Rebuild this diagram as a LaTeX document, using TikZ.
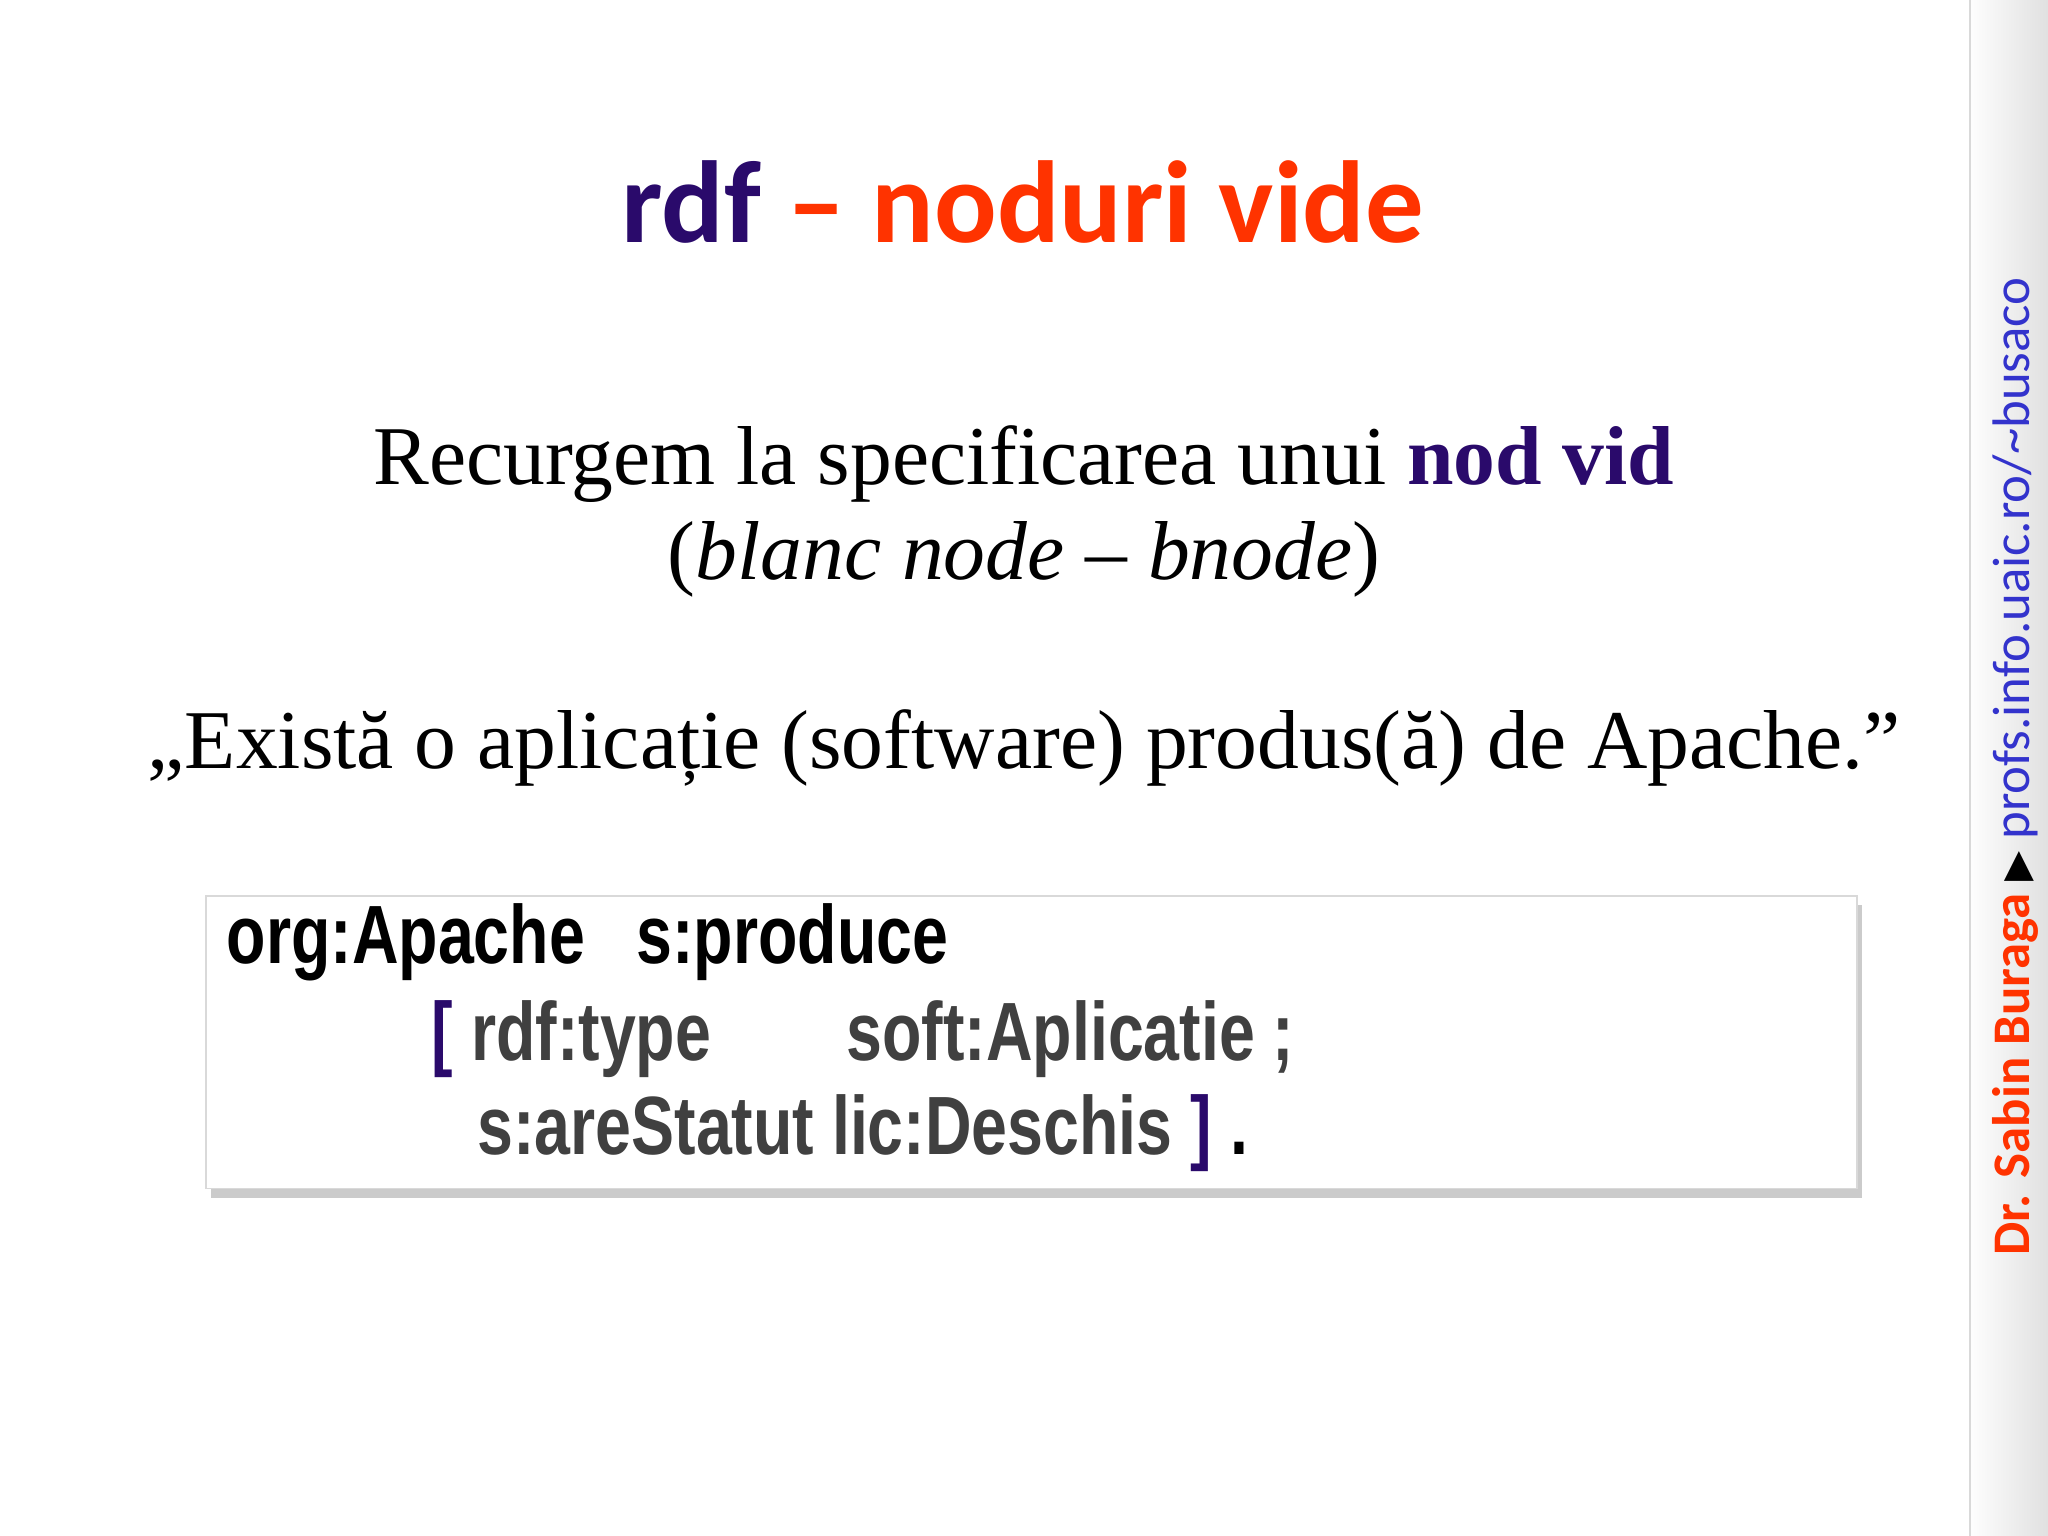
\documentclass[tikz,border=0pt]{standalone}
\usepackage{fontspec}
\setmainfont{Liberation Serif}
\newfontfamily\carl{Carlito}
\newfontfamily\arl{Liberation Sans}
\newfontfamily\dvs{DejaVu Sans}
\usetikzlibrary{shadows}
\definecolor{dpurple}{HTML}{2A0A6B}
\definecolor{orred}{HTML}{FF3300}
\definecolor{blu}{HTML}{3333CC}
\definecolor{codegrey}{HTML}{404040}
\tikzset{code/.style={anchor=base west,inner sep=0pt,font=\arl\bfseries\fontsize{18}{20}\selectfont,xscale=0.78}}
\begin{document}
\begin{tikzpicture}[x=0.01cm,y=-0.01cm]
\useasboundingbox (0,0) rectangle (1568,1176);
\fill[white] (0,0) rectangle (1568,1176);
\shade[left color=white,right color=black!12] (1506,0) rectangle (1568,1176);
\draw[black!15] (1508,0) -- (1508,1176);
\node (title) at (783,155) {\carl\bfseries\fontsize{25.4}{28}\selectfont\textcolor{dpurple}{rdf} \textcolor{orred}{– noduri vide}};
\node (l1) at (784,355) {\fontsize{18.2}{22}\selectfont Recurgem la specificarea unui \textcolor{dpurple}{\bfseries nod vid}};
\node (l2) at (784,428) {\fontsize{18.2}{22}\selectfont (\textit{blanc node} – \textit{bnode})};
\node (l3) at (784,573) {\fontsize{18.2}{22}\selectfont „Există o aplicație (software) produs(ă) de Apache.”};
\node (box) [draw=black!15,fill=white,drop shadow={shadow xshift=1pt,shadow yshift=-2pt,fill=black!40},minimum width=1264*0.01cm,minimum height=224*0.01cm,inner sep=0pt] at (790,798) {};
\node (c1) [code] at (173,738) {org:Apache\hspace{0.8em}s:produce};
\node (c2) [code] at (330,812) {\textcolor{dpurple}{[} \textcolor{codegrey}{rdf:type\hspace{2.1em}soft:Aplicatie ;}};
\node (c3) [code] at (365,884) {\textcolor{codegrey}{s:areStatut lic:Deschis} \textcolor{dpurple}{]} .};
\node (side) [rotate=90,anchor=west,inner sep=0pt] at (1543,962) {\carl\fontsize{11.5}{13}\selectfont\textcolor{orred}{\bfseries Dr. Sabin Buraga} {\dvs\fontsize{8.5}{10}\selectfont ▶} \textcolor{blu}{profs.info.uaic.ro/\textasciitilde busaco}};
\end{tikzpicture}
\end{document}
